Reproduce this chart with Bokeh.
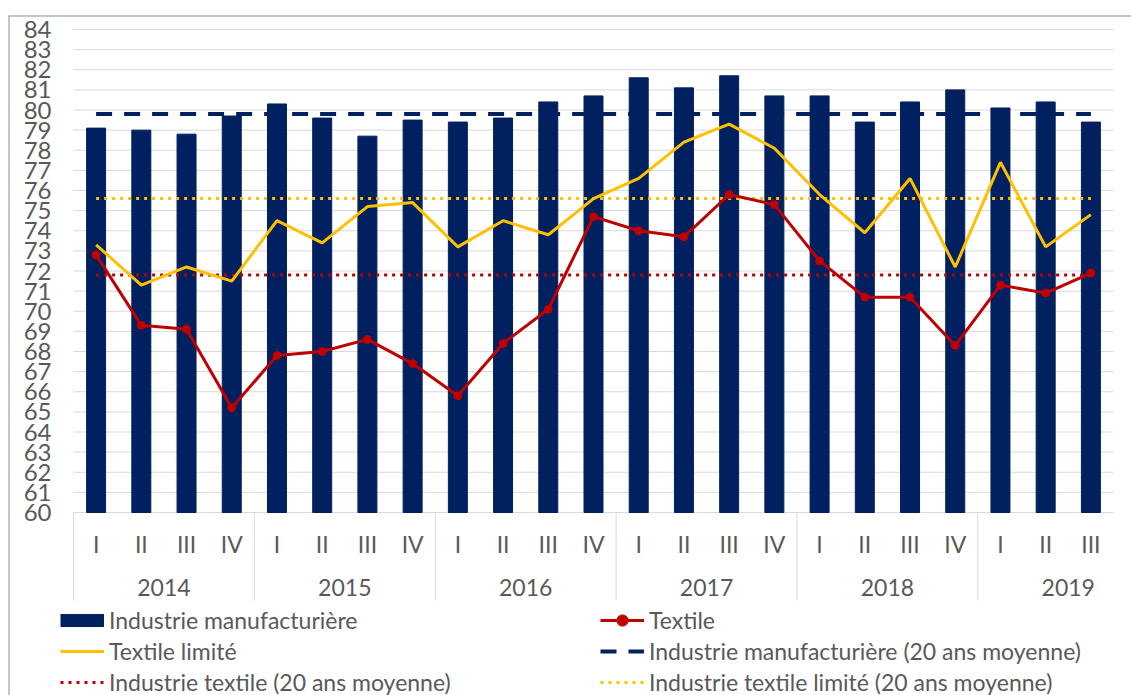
from bokeh.plotting import figure
from bokeh.models import ColumnDataSource, FixedTicker, Legend, LegendItem, Span, Range1d
from bokeh.core.properties import value
from bokeh.embed import file_html
from bokeh.resources import INLINE
import numpy as np

# ---------------- data ----------------
years = ["2014", "2015", "2016", "2017", "2018", "2019"]
quarters = ["I", "II", "III", "IV"] * 5 + ["I", "II", "III"]
manufacturing = [79.1, 79.0, 78.8, 79.7, 80.3, 79.6, 78.7, 79.5, 79.4, 79.6, 80.4, 80.7,
                 81.6, 81.1, 81.7, 80.7, 80.7, 79.4, 80.4, 81.0, 80.1, 80.4, 79.4]
textile = [72.8, 69.3, 69.1, 65.2, 67.8, 68.0, 68.6, 67.4, 65.8, 68.4, 70.1, 74.7,
           74.0, 73.7, 75.8, 75.3, 72.5, 70.7, 70.7, 68.3, 71.3, 70.9, 71.9]
textile_limited = [73.3, 71.3, 72.2, 71.5, 74.5, 73.4, 75.2, 75.4, 73.2, 74.5, 73.8, 75.6,
                   76.6, 78.4, 79.3, 78.1, 75.8, 73.9, 76.6, 72.2, 77.4, 73.2, 74.8]
avg_manufacturing = 79.8
avg_textile = 71.8
avg_textile_limited = 75.6
y_ticks = list(range(60, 85))
series_labels = ["Industrie manufacturière", "Textile", "Textile limité",
                 "Industrie manufacturière (20 ans moyenne)",
                 "Industrie textile (20 ans moyenne)",
                 "Industrie textile limité (20 ans moyenne)"]

# ---------------- layout constants (page pixels) ----------------
W, H = 1131, 695
FRAME_LEFT, FRAME_TOP = 8, 15
PLOT_L, PLOT_R, PLOT_T, PLOT_B = 73, 1113, 29, 512
Y_MIN, Y_MAX = y_ticks[0], y_ticks[-1]

NAVY = "#002060"
RED = "#C00000"
YELLOW = "#FFC000"
GRID = "#d9d9d9"
TXT = "#595959"
FONT = "Lato"

n = len(quarters)
cw = (PLOT_R - PLOT_L) / n
py = (PLOT_B - PLOT_T) / (Y_MAX - Y_MIN)


def xd(px):
    return (px - PLOT_L) / cw


def yd(pyy):
    return Y_MIN - (pyy - PLOT_B) / py


x_start = xd(FRAME_LEFT)
x_end = xd(W)
y_end = yd(FRAME_TOP)
y_start = yd(H)

centers = np.arange(n) + 0.5

p = figure(width=W, height=H, x_range=Range1d(x_start, x_end), y_range=Range1d(y_start, y_end),
           output_backend="svg", toolbar_location=None,
           min_border_left=FRAME_LEFT, min_border_right=0, min_border_top=FRAME_TOP, min_border_bottom=0)
p.xgrid.visible = False
p.ygrid.visible = False
p.outline_line_color = None
p.background_fill_color = "white"
p.border_fill_color = "white"

# border (left and top)
p.add_layout(Span(location=x_start, dimension="height", line_color="#8c8c8c", line_width=2))
p.add_layout(Span(location=y_end, dimension="width", line_color="#8c8c8c", line_width=2))

# gridlines
p.segment(x0=[0] * len(y_ticks), x1=[n] * len(y_ticks), y0=y_ticks, y1=y_ticks,
          line_color=GRID, line_width=1)

# year separators
sep_x = [4 * k for k in range(len(years))]
p.segment(x0=sep_x, x1=sep_x, y0=[Y_MIN] * len(sep_x), y1=[yd(600)] * len(sep_x),
          line_color=GRID, line_width=1)

# bars
src = ColumnDataSource(dict(x=centers, top=manufacturing, tex=textile, lim=textile_limited))
p.vbar(x="x", top="top", bottom=Y_MIN, width=0.42, source=src, fill_color=NAVY, line_color=NAVY)

xs_avg = [centers[0], centers[-1]]
avg_m = p.line(xs_avg, [avg_manufacturing] * 2, line_color=NAVY, line_width=4, line_dash="16 12")
avg_tl = p.line(xs_avg, [avg_textile_limited] * 2, line_color=YELLOW, line_width=3, line_dash="3 5")
avg_t = p.line(xs_avg, [avg_textile] * 2, line_color=RED, line_width=3, line_dash="3 5")

lim_line = p.line("x", "lim", source=src, line_color=YELLOW, line_width=3)
tex_line = p.line("x", "tex", source=src, line_color=RED, line_width=3)
tex_pts = p.scatter("x", "tex", source=src, size=8, fill_color=RED, line_color=RED)

# legend swatches (nothing drawn in the plot area)
bar_proxy = p.line(x=[np.nan], y=[np.nan], line_color=NAVY, line_width=13)
tex_dot_proxy = p.scatter(x=[np.nan], y=[np.nan], size=6, fill_color=RED, line_color=RED)

# axes
p.yaxis.fixed_location = xd(56)
p.yaxis.ticker = FixedTicker(ticks=y_ticks)
p.yaxis.axis_line_color = None
p.yaxis.major_tick_line_color = None
p.yaxis.minor_tick_line_color = None
p.yaxis.major_tick_out = 0
p.yaxis.major_tick_in = 0
p.yaxis.major_label_standoff = 5
p.yaxis.major_label_text_font = FONT
p.yaxis.major_label_text_font_size = "24px"
p.yaxis.major_label_text_color = TXT

p.xaxis.fixed_location = Y_MIN
p.xaxis.ticker = FixedTicker(ticks=list(centers))
p.xaxis.major_label_overrides = {float(c): q for c, q in zip(centers, quarters)}
p.xaxis.axis_line_color = None
p.xaxis.major_tick_line_color = None
p.xaxis.minor_tick_line_color = None
p.xaxis.major_tick_out = 0
p.xaxis.major_tick_in = 0
p.xaxis.major_label_standoff = 17
p.xaxis.major_label_text_font = FONT
p.xaxis.major_label_text_font_size = "23px"
p.xaxis.major_label_text_color = TXT

# year labels
year_x = [4 * k + 2 for k in range(len(years))]
p.text(x=year_x, y=[yd(587)] * len(years), text=years, text_align="center", text_baseline="middle",
       text_font=value(FONT), text_font_size="23px", text_color=TXT)

ROW_H, ROW_GAP = 28, 3
ROW1 = 620
legend_top = ROW1 - ROW_H / 2
legend_h = 3 * ROW_H + 2 * ROW_GAP
legend = Legend(items=[
    LegendItem(label=series_labels[0], renderers=[bar_proxy]),
    LegendItem(label=series_labels[1], renderers=[tex_line, tex_dot_proxy]),
    LegendItem(label=series_labels[2], renderers=[lim_line]),
    LegendItem(label=series_labels[3], renderers=[avg_m]),
    LegendItem(label=series_labels[4], renderers=[avg_t]),
    LegendItem(label=series_labels[5], renderers=[avg_tl]),
], location=(60 - FRAME_LEFT, H - (legend_top + legend_h)), orientation="horizontal", ncols=2,
    glyph_width=44, glyph_height=ROW_H, label_height=ROW_H, label_width=491 - ROW_GAP, label_standoff=5,
    spacing=ROW_GAP, padding=0, margin=0, border_line_color=None, background_fill_alpha=0,
    label_text_font=FONT, label_text_font_size="23px", label_text_color=TXT)
p.add_layout(legend)

open("out.html", "w").write(file_html(p, INLINE))
